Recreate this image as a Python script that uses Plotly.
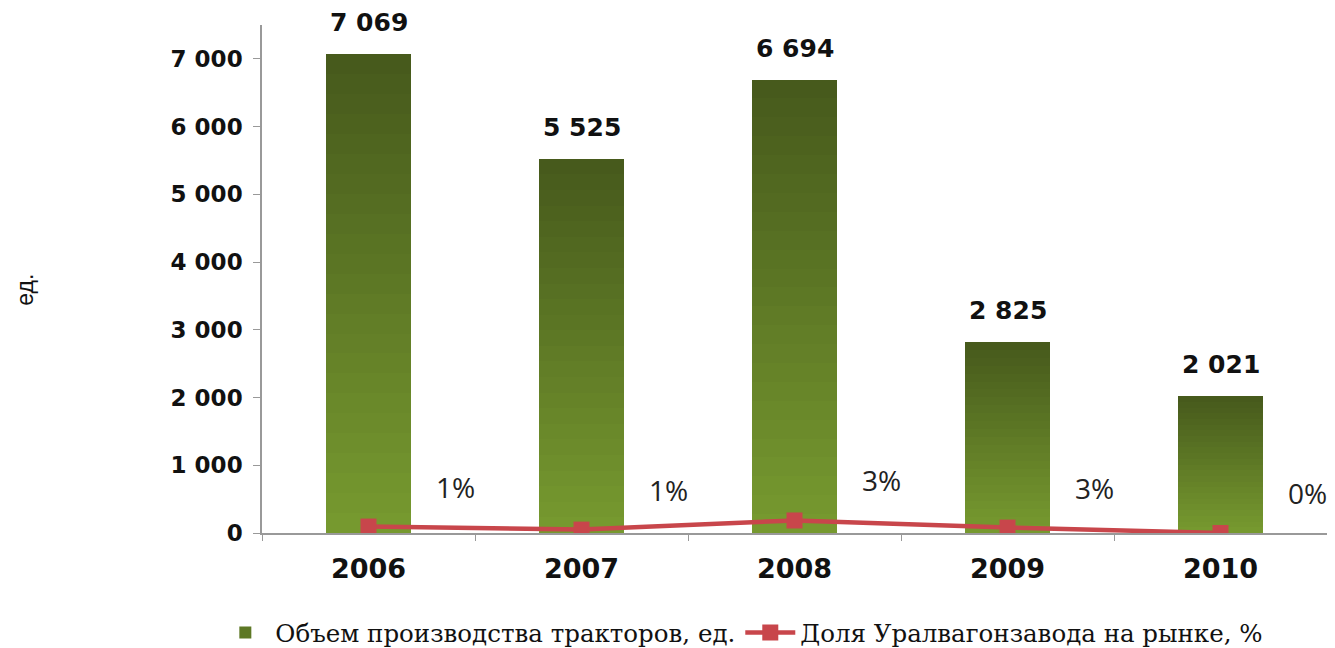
import plotly.graph_objects as go

years = ["2006", "2007", "2008", "2009", "2010"]
volume = [7069, 5525, 6694, 2825, 2021]
volume_labels = ["7 069", "5 525", "6 694", "2 825", "2 021"]
share_points = [95, 50, 185, 80, 0]
share_labels = ["1%", "1%", "3%", "3%", "0%"]
y_ticks = [0, 1000, 2000, 3000, 4000, 5000, 6000, 7000]
y_tick_text = ["0", "1 000", "2 000", "3 000", "4 000", "5 000", "6 000", "7 000"]

bar_name = "Объем производства тракторов, ед."
line_name = "Доля Уралвагонзавода на рынке, %"

bottom_rgb = (0x76, 0x99, 0x2f)
top_rgb = (0x47, 0x5a, 0x1c)
N = 24

fig = go.Figure()
for i in range(N):
    t = i / (N - 1)
    c = tuple(round(bottom_rgb[k] + (top_rgb[k] - bottom_rgb[k]) * t) for k in range(3))
    fig.add_trace(go.Bar(
        x=years, y=[v / N for v in volume],
        marker=dict(color="rgb(%d,%d,%d)" % c, line=dict(width=0)),
        width=0.4, name=bar_name, legendgroup="vol",
        showlegend=(i == N // 2), legendrank=1, hoverinfo="skip",
    ))

fig.add_trace(go.Scatter(
    x=years, y=share_points, mode="lines+markers", name=line_name,
    line=dict(color="#c8464b", width=4.5),
    marker=dict(symbol="square", size=16, color="#c8464b"),
    legendrank=2,
))

annotations = []
for idx, (v, lab) in enumerate(zip(volume, volume_labels)):
    annotations.append(dict(xref="x", yref="y", x=idx, y=v, text="<b>%s</b>" % lab,
                            showarrow=False, yanchor="bottom", yshift=15,
                            font=dict(family="DejaVu Sans", size=25, color="#111")))
for idx, (v, lab) in enumerate(zip(share_points, share_labels)):
    annotations.append(dict(xref="x", yref="y", x=idx, y=v, text=lab, showarrow=False,
                            xshift=87, yshift=40,
                            font=dict(family="Open Sans", size=28, color="#222")))
annotations.append(dict(xref="paper", yref="paper", x=-0.222, xanchor="center",
                        y=0.478, yanchor="middle", text="ед.",
                        textangle=-90, showarrow=False,
                        font=dict(family="Liberation Sans", size=23, color="#111")))

fig.update_layout(
    template="none",
    width=1327, height=640,
    margin=dict(l=254, r=8, t=17, b=115),
    paper_bgcolor="white", plot_bgcolor="white",
    barmode="stack", bargap=0.6,
    annotations=annotations,
    showlegend=True,
    legend=dict(orientation="h", xref="container", yref="container",
                x=0.553, xanchor="center", y=0.024, yanchor="middle",
                font=dict(family="DejaVu Serif", size=24.5, color="#111"),
                itemwidth=50, traceorder="normal", bgcolor="rgba(0,0,0,0)"),
    xaxis=dict(type="category", showline=True, linecolor="#999", linewidth=1.5,
               ticks="outside", tickson="boundaries", ticklen=6, tickcolor="#999",
               tickfont=dict(family="DejaVu Sans", size=27, color="#111", weight="bold"),
               ticklabelstandoff=11, showgrid=False, range=[-0.5, 4.5], automargin=False),
    yaxis=dict(range=[0, 7500], tickvals=y_ticks, ticktext=y_tick_text,
               showline=True, linecolor="#999", linewidth=1.5,
               ticks="outside", ticklen=7, tickcolor="#999",
               tickfont=dict(family="DejaVu Sans", size=23, color="#111", weight="bold"),
               ticklabelstandoff=6, showgrid=False, zeroline=False, automargin=False),
)

fig.write_html("out.html")
